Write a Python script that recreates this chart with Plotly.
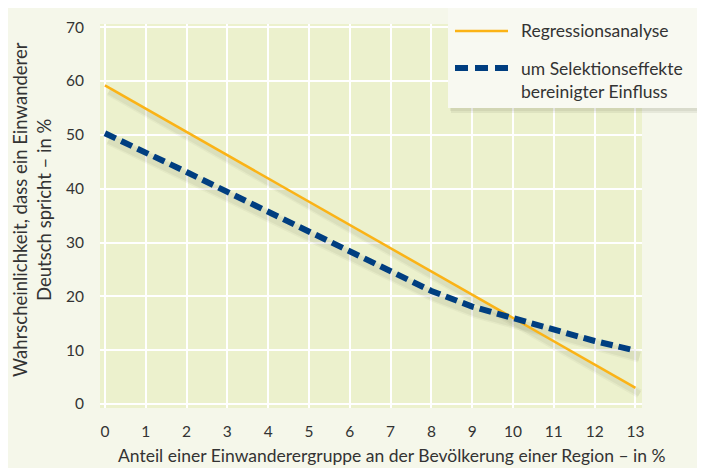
import plotly.graph_objects as go

# Data
x_reg = [0, 13]
y_reg = [59.2, 3.0]

x_sel = [0, 1, 2, 3, 4, 5, 6, 7, 8, 9, 10, 11, 12, 13]
y_sel = [50.3, 46.8, 43.1, 39.4, 35.7, 32.0, 28.2, 24.7, 21.0, 18.1, 16.0, 13.8, 11.7, 9.9]

x_ticks = list(range(0, 14))
y_ticks = list(range(0, 80, 10))

name_reg = "Regressionsanalyse"
name_sel = "um Selektionseffekte<br>bereinigter Einfluss"

ORANGE = "#FBB316"
BLUE = "#003E80"
TXT = "#333333"
FONT = "Lato"

# page offset of the figure inside the browser window (body margin)
OFF = 8
FW, FH = 705, 468
# plot-area geometry in window pixels
L, R, T, B = 100 - OFF, 642 - OFF, 24 - OFF, 408 - OFF
W, H = R - L, B - T


def px(xp):
    return (xp - OFF - L) / W


def py(yp):
    return (B - (yp - OFF)) / H


fig = go.Figure()

# soft drop shadows under the lines
for xs, ys, w in [(x_reg, y_reg, 3), (x_sel, y_sel, 6)]:
    for extra, alpha in [(6, 0.045), (3, 0.06)]:
        fig.add_trace(go.Scatter(
            x=[v + 0.1 for v in xs], y=[v - 1.1 for v in ys], mode="lines",
            line=dict(color=f"rgba(60,60,40,{alpha})", width=w + extra),
            hoverinfo="skip", showlegend=False))

fig.add_trace(go.Scatter(
    x=x_reg, y=y_reg, mode="lines", name=name_reg,
    line=dict(color=ORANGE, width=2.5), showlegend=False))
fig.add_trace(go.Scatter(
    x=x_sel, y=y_sel, mode="lines", name=name_sel,
    line=dict(color=BLUE, width=6, dash="12px,6px"), showlegend=False))

shapes = [
    # legend shadow
    dict(type="rect", xref="paper", yref="paper", layer="above",
         x0=px(451), x1=px(703), y0=py(113), y1=py(8),
         fillcolor="rgba(90,90,70,0.09)", line=dict(width=0)),
    dict(type="rect", xref="paper", yref="paper", layer="above",
         x0=px(450), x1=px(700), y0=py(111), y1=py(6),
         fillcolor="rgba(90,90,70,0.09)", line=dict(width=0)),
    # legend box
    dict(type="rect", xref="paper", yref="paper", layer="above",
         x0=px(448), x1=px(697), y0=py(108), y1=py(4),
         fillcolor="#F8F9F1", line=dict(width=0)),
    # legend samples
    dict(type="line", xref="paper", yref="paper", layer="above",
         x0=px(455), x1=px(508), y0=py(31), y1=py(31),
         line=dict(color=ORANGE, width=2.5)),
    dict(type="line", xref="paper", yref="paper", layer="above",
         x0=px(455), x1=px(509), y0=py(68), y1=py(68),
         line=dict(color=BLUE, width=6, dash="13px,7px")),
]

annotations = [
    dict(text=name_reg, xref="paper", yref="paper", x=px(519), y=py(31),
         xanchor="left", yanchor="middle", showarrow=False,
         font=dict(family=FONT, size=17.5, color=TXT)),
    dict(text=name_sel, xref="paper", yref="paper", x=px(519), y=py(80),
         xanchor="left", yanchor="middle", showarrow=False, align="left",
         font=dict(family=FONT, size=17.5, color=TXT)),
    dict(text="Anteil einer Einwanderergruppe an der Bevölkerung einer Region – in %",
         xref="paper", yref="paper", x=px(392), y=py(455),
         xanchor="center", yanchor="middle", showarrow=False,
         font=dict(family=FONT, size=17.5, color=TXT)),
    dict(text="Wahrscheinlichkeit, dass ein Einwanderer<br>Deutsch spricht – in %",
         xref="paper", yref="paper", x=px(32), y=py(210),
         xanchor="center", yanchor="middle", showarrow=False, textangle=-90,
         font=dict(family=FONT, size=18.5, color=TXT)),
]

fig.update_layout(
    width=FW, height=FH,
    margin=dict(l=L, r=FW - R, t=T, b=FH - B, autoexpand=False),
    paper_bgcolor="#F5F7EA",
    plot_bgcolor="#ECF1CD",
    font=dict(family=FONT, size=15, color=TXT),
    showlegend=False,
    xaxis=dict(
        range=[-0.12, 13.16], tickvals=x_ticks,
        showgrid=True, gridcolor="white", gridwidth=1.5,
        zeroline=True, zerolinecolor="white", zerolinewidth=1.5,
        ticks="outside", ticklen=9, tickcolor="rgba(0,0,0,0)",
        tickfont=dict(family=FONT, size=15.5, color=TXT),
        showline=False, fixedrange=True,
    ),
    yaxis=dict(
        range=[-0.75, 70.6], tickvals=y_ticks,
        showgrid=True, gridcolor="white", gridwidth=1.5,
        zeroline=True, zerolinecolor="white", zerolinewidth=1.5,
        ticks="outside", ticklen=12, tickcolor="rgba(0,0,0,0)",
        tickfont=dict(family=FONT, size=15.5, color=TXT),
        showline=False, fixedrange=True,
    ),
    shapes=shapes,
    annotations=annotations,
)

fig.write_html("out.html")
